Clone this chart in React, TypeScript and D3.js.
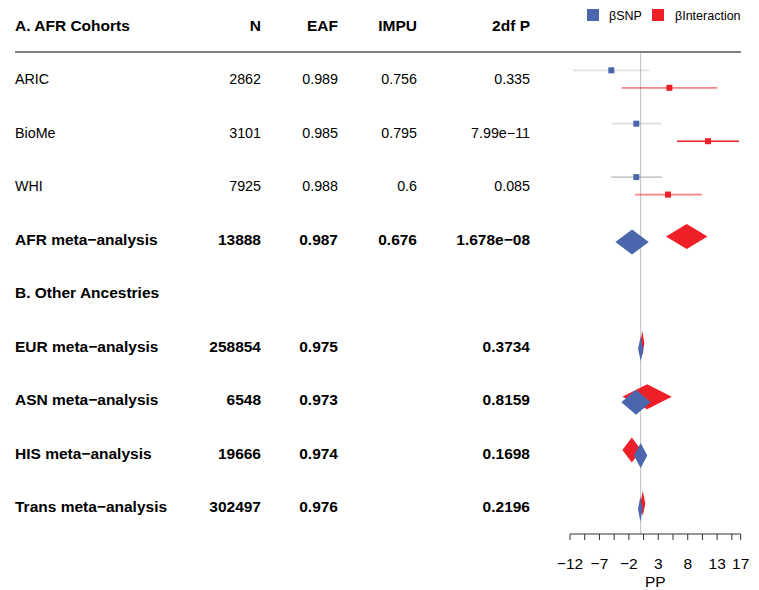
import React from "react";
import * as d3 from "d3";

// ---------- data ----------
const cohortNames = ["ARIC", "BioMe", "WHI"];
const cohortN = ["2862", "3101", "7925"];
const cohortEAF = ["0.989", "0.985", "0.988"];
const cohortIMPU = ["0.756", "0.795", "0.6"];
const cohortP = ["0.335", "7.99e\u221211", "0.085"];
const snpBeta = [-4.98, -0.73, -0.73];
const snpLo = [-11.5, -4.9, -5.0];
const snpHi = [1.6, 3.47, 3.64];
const intBeta = [4.88, 11.45, 4.65];
const intLo = [-3.2, 6.18, -0.95];
const intHi = [13.0, 16.7, 10.4];
const snpWeight = [0.45, 0.55, 0.85];
const intWeight = [0.55, 1.0, 0.55];

const metaNames = [
  "AFR meta\u2212analysis",
  "EUR meta\u2212analysis",
  "ASN meta\u2212analysis",
  "HIS meta\u2212analysis",
  "Trans meta\u2212analysis",
];
const metaRows = [3, 5, 6, 7, 8];
const metaN = ["13888", "258854", "6548", "19666", "302497"];
const metaEAF = ["0.987", "0.975", "0.973", "0.974", "0.976"];
const metaIMPU = ["0.676", "", "", "", ""];
const metaP = ["1.678e\u221208", "0.3734", "0.8159", "0.1698", "0.2196"];
const metaSnpBeta = [-1.46, 0.02, -0.78, 0.0, -0.05];
const metaSnpLo = [-4.3, -0.43, -3.28, -1.13, -0.45];
const metaSnpHi = [1.38, 0.47, 1.72, 1.13, 0.35];
const metaIntBeta = [7.83, 0.29, 1.1, -1.5, 0.37];
const metaIntLo = [4.3, -0.05, -3.1, -3.1, -0.05];
const metaIntHi = [11.36, 0.63, 5.3, 0.1, 0.79];

const headerCols = ["A. AFR Cohorts", "N", "EAF", "IMPU", "2df P"];
const sectionB = "B. Other Ancestries";
const axisTicks = [-12, -9.5, -7, -4.5, -2, 0.5, 3, 5.5, 8, 10.5, 13, 15.5, 17];
const axisLabels = [-12, -7, -2, 3, 8, 13, 17];
const axisTitle = "PP";
const legendLabels = ["\u03b2SNP", "\u03b2Interaction"];

// ---------- style ----------
const BLUE = "#4A66AC";
const RED = "#EE1F26";
const FONT = "'Liberation Sans', Arial, Helvetica, sans-serif";
const W = 759;
const H = 590;

export default function App() {
  const x = d3.scaleLinear().domain([-12, 17]).range([570, 740.7]);
  const rowY = d3.scaleLinear().domain([0, 8]).range([79.3, 506.5]);
  const colX = [15, 261, 338, 417, 530];
  const axisY = 534;
  const dh = 12.5;

  const diamond = (lo: number, mid: number, hi: number, cy: number) => {
    const p = d3.path();
    p.moveTo(x(lo), cy);
    p.lineTo(x(mid), cy - dh);
    p.lineTo(x(hi), cy);
    p.lineTo(x(mid), cy + dh);
    p.closePath();
    return p.toString();
  };

  const regSize = 14.3;
  const boldSize = 15.5;

  return (
    <svg
      width={W}
      height={H}
      style={{ position: "absolute", left: 0, top: 0, background: "#fff" }}
      fontFamily={FONT}
    >
      <rect width={W} height={H} fill="#fff" />
      {/* header */}
      <g fontWeight="bold" fontSize={boldSize} fill="#000">
        <text x={colX[0]} y={31}>{headerCols[0]}</text>
        {headerCols.slice(1).map((h, i) => (
          <text key={h} x={colX[i + 1]} y={31} textAnchor="end">{h}</text>
        ))}
      </g>
      <line x1={15} x2={741} y1={52} y2={52} stroke="#555" strokeWidth={1.5} />

      {/* zero line */}
      <line x1={x(0)} x2={x(0)} y1={53} y2={axisY} stroke="#c8c8c8" strokeWidth={1.2} />

      {/* cohort rows */}
      {cohortNames.map((name, i) => {
        const cy = rowY(i);
        return (
          <g key={name}>
            <g fontSize={regSize} fill="#000">
              <text x={colX[0]} y={cy + 5}>{name}</text>
              <text x={colX[1]} y={cy + 5} textAnchor="end">{cohortN[i]}</text>
              <text x={colX[2]} y={cy + 5} textAnchor="end">{cohortEAF[i]}</text>
              <text x={colX[3]} y={cy + 5} textAnchor="end">{cohortIMPU[i]}</text>
              <text x={colX[4]} y={cy + 5} textAnchor="end">{cohortP[i]}</text>
            </g>
            <line x1={x(snpLo[i])} x2={x(snpHi[i])} y1={cy - 9} y2={cy - 9}
              stroke="#999" strokeOpacity={snpWeight[i] * 0.6} strokeWidth={1.8} />
            <rect x={x(snpBeta[i]) - 3} y={cy - 9 - 3} width={6} height={6} fill={BLUE} />
            <line x1={x(intLo[i])} x2={x(intHi[i])} y1={cy + 8.5} y2={cy + 8.5}
              stroke={RED} strokeOpacity={intWeight[i]} strokeWidth={intWeight[i] > 0.9 ? 1.4 : 1.8} />
            <rect x={x(intBeta[i]) - 3} y={cy + 8.5 - 3} width={6} height={6} fill={RED} />
          </g>
        );
      })}

      {/* section B */}
      <text x={colX[0]} y={rowY(4) + 5.5} fontSize={boldSize} fontWeight="bold">{sectionB}</text>

      {/* meta rows */}
      {metaNames.map((name, i) => {
        const cy = rowY(metaRows[i]);
        return (
          <g key={name}>
            <g fontSize={boldSize} fontWeight="bold" fill="#000">
              <text x={colX[0]} y={cy + 5.5}>{name}</text>
              <text x={colX[1]} y={cy + 5.5} textAnchor="end">{metaN[i]}</text>
              <text x={colX[2]} y={cy + 5.5} textAnchor="end">{metaEAF[i]}</text>
              <text x={colX[3]} y={cy + 5.5} textAnchor="end">{metaIMPU[i]}</text>
              <text x={colX[4]} y={cy + 5.5} textAnchor="end">{metaP[i]}</text>
            </g>
            <path d={diamond(metaIntLo[i], metaIntBeta[i], metaIntHi[i], cy - 3)} fill={RED} />
            <path d={diamond(metaSnpLo[i], metaSnpBeta[i], metaSnpHi[i], cy + 2.5)} fill={BLUE} />
          </g>
        );
      })}

      {/* axis */}
      <g stroke="#333" strokeWidth={1} fill="none">
        <line x1={x(axisTicks[0])} x2={x(axisTicks[axisTicks.length - 1])} y1={axisY} y2={axisY} />
        {axisTicks.map((t) => (
          <line key={t} x1={x(t)} x2={x(t)} y1={axisY} y2={axisY + 6} />
        ))}
      </g>
      <g fontSize={15.5} fill="#000" textAnchor="middle">
        {axisLabels.map((t) => (
          <text key={t} x={x(t)} y={569}>{t < 0 ? "\u2212" + Math.abs(t) : String(t)}</text>
        ))}
        <text x={(x(-12) + x(17)) / 2} y={587}>{axisTitle}</text>
      </g>

      {/* legend */}
      <rect x={587} y={9} width={12} height={12} fill={BLUE} />
      <text x={609} y={19.5} fontSize={12.5}>{legendLabels[0]}</text>
      <rect x={652} y={9} width={12} height={12} fill={RED} />
      <text x={675} y={19.5} fontSize={12.5}>{legendLabels[1]}</text>
    </svg>
  );
}
